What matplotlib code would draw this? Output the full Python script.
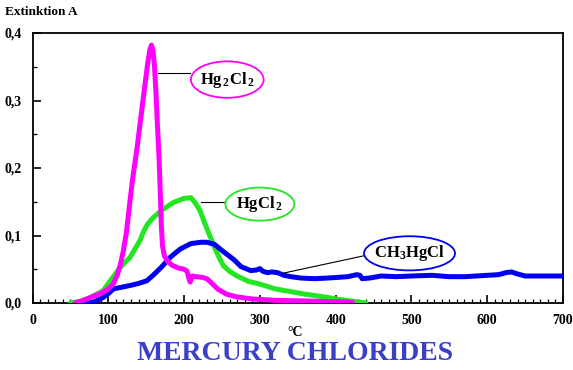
import matplotlib
matplotlib.use("Agg")
import matplotlib.pyplot as plt
from matplotlib.patches import Ellipse

plt.rcParams['font.family'] = ['Liberation Serif', 'DejaVu Serif']
plt.rcParams['font.weight'] = 'bold'
plt.rcParams['mathtext.fontset'] = 'custom'
plt.rcParams['mathtext.rm'] = 'Liberation Serif:bold'
plt.rcParams['mathtext.bf'] = 'Liberation Serif:bold'
plt.rcParams['mathtext.it'] = 'Liberation Serif:bold'

# Extinction curves vs. temperature (°C)
hg2cl2_t = [56, 65, 76, 85, 93, 100, 107, 112, 116, 120, 124, 128, 132, 138, 143, 148, 152,
            155, 157, 159, 161, 163, 165, 167, 168.7, 170, 171.5, 174, 178, 184, 192, 200,
            204, 206, 208, 211, 216, 224, 230, 236, 244, 256, 270, 290, 320, 360, 400, 422]
hg2cl2_a = [0.0, 0.003, 0.008, 0.012, 0.016, 0.021, 0.029, 0.042, 0.057, 0.078, 0.105, 0.145,
            0.183, 0.23, 0.275, 0.32, 0.355, 0.376, 0.382, 0.374, 0.35, 0.31, 0.26, 0.215, 0.16,
            0.115, 0.085, 0.07, 0.062, 0.056, 0.052, 0.05, 0.047, 0.038, 0.031, 0.04, 0.039,
            0.038, 0.036, 0.03, 0.021, 0.013, 0.009, 0.006, 0.004, 0.003, 0.002, 0.001]

hgcl2_t = [50, 62, 76, 93, 102.6, 116, 129, 142, 147, 152, 158, 164, 170, 186, 200, 209, 215,
           221, 226, 232, 240, 246, 252, 260, 270, 285, 300, 320, 340, 360, 385, 400, 420, 440]
hgcl2_a = [0.0, 0.002, 0.008, 0.018, 0.033, 0.053, 0.068, 0.093, 0.107, 0.117, 0.125, 0.131,
           0.137, 0.149, 0.155, 0.156, 0.148, 0.137, 0.122, 0.105, 0.083, 0.068, 0.055, 0.047,
           0.04, 0.032, 0.028, 0.021, 0.017, 0.013, 0.009, 0.006, 0.003, 0.0]

ch3hgcl_t = [63, 80, 93, 100, 107, 116, 129, 140, 151, 160, 170, 182, 195, 209, 222, 230, 240,
             252, 266, 275, 288, 296, 300, 304, 310, 316, 323, 332, 341, 354, 372, 390, 416,
             428, 432, 435, 445, 460, 480, 500, 527, 550, 571, 600, 615, 625, 632, 640, 650, 700]
ch3hgcl_a = [0.0, 0.001, 0.008, 0.014, 0.021, 0.023, 0.026, 0.029, 0.033, 0.042, 0.053, 0.068,
             0.08, 0.088, 0.09, 0.09, 0.087, 0.076, 0.064, 0.054, 0.048, 0.049, 0.051, 0.047,
             0.045, 0.046, 0.045, 0.041, 0.039, 0.037, 0.036, 0.037, 0.039, 0.042, 0.041, 0.036,
             0.037, 0.04, 0.039, 0.04, 0.041, 0.039, 0.039, 0.041, 0.042, 0.045, 0.046, 0.043,
             0.04, 0.04]

x_ticks = [0, 100, 200, 300, 400, 500, 600, 700]
y_ticks = [0.0, 0.1, 0.2, 0.3, 0.4]
y_tick_labels = ['0,0', '0,1', '0,2', '0,3', '0,4']

MAGENTA = '#ff00ff'
GREEN = '#22e622'
BLUE = '#0000f0'

fig = plt.figure(figsize=(5.73, 3.70), dpi=100)
ax = fig.add_axes([32.5 / 573, 1 - 303 / 370, (563 - 32.5) / 573, (303 - 33) / 370])

lw = 3.6
ax.plot(hgcl2_t, hgcl2_a, color=GREEN, lw=lw, solid_capstyle='round', solid_joinstyle='round', zorder=3)
ax.plot(ch3hgcl_t, ch3hgcl_a, color=BLUE, lw=lw, solid_capstyle='round', solid_joinstyle='round', zorder=4)
ax.plot(hg2cl2_t, hg2cl2_a, color=MAGENTA, lw=lw, solid_capstyle='round', solid_joinstyle='round', zorder=5)

ax.set_xlim(0, 700)
ax.set_ylim(0, 0.4)
ax.set_xticks(x_ticks)
ax.set_xticklabels([str(v) for v in x_ticks])
ax.set_yticks(y_ticks)
ax.set_yticklabels(y_tick_labels)
ax.set_xticks(range(0, 701, 10), minor=True)
ax.set_yticks([0.05, 0.15, 0.25, 0.35], minor=True)
ax.tick_params(which='major', direction='in', length=6, width=1.2, labelsize=10, pad=8)
ax.tick_params(which='minor', direction='in', length=3, width=0.9)
for lab in ax.get_xticklabels() + ax.get_yticklabels():
    lab.set_fontweight('bold')
for s in ax.spines.values():
    s.set_linewidth(1.3)

# Labelled ellipses with leader lines
def tag(text, cx, cy, w, h, color, lx, ly, fs=12):
    ax.plot(lx, ly, color='black', lw=0.8, zorder=6, clip_on=False)
    ax.add_patch(Ellipse((cx, cy), w, h, facecolor='white', edgecolor=color, lw=1.3,
                         zorder=7, clip_on=False))
    ax.text(cx, cy, text, ha='center', va='center', fontsize=fs, fontweight='bold',
            zorder=8, color='black')

tag(r'Hg$_{\,2}$Cl$_{\,2}$', 257, 0.331, 96, 0.054, MAGENTA, [165, 208], [0.341, 0.341])
tag(r'HgCl$_{\,2}$', 300, 0.1465, 91, 0.049, GREEN, [222, 255], [0.149, 0.149])
tag(r'CH$_{3}$HgCl', 497.5, 0.0736, 120, 0.0506, BLUE, [330, 440], [0.044, 0.0706])

fig.text(5 / 573, 1 - 12 / 370, 'Extinktion A', ha='left', va='center', fontsize=9.5,
         fontweight='bold')
fig.text(295 / 573, 1 - 332 / 370, '°C', ha='center', va='center', fontsize=10,
         fontweight='bold')
fig.text(295 / 573, 1 - 353 / 370, 'MERCURY CHLORIDES', ha='center', va='center',
         fontsize=20, fontweight='bold', color='#3b3fc6')

fig.savefig('out.png', dpi=100)
